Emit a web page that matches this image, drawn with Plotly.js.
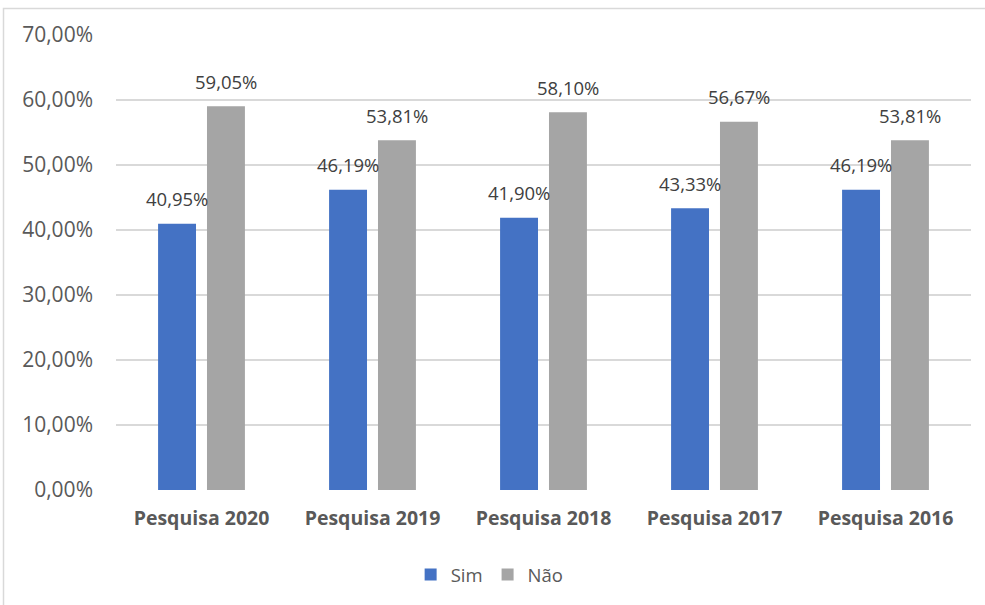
<!DOCTYPE html>
<html>
<head>
<meta charset="utf-8">
<script src="https://cdn.plot.ly/plotly-3.0.1.min.js"></script>
<style>
html,body{margin:0;padding:0;background:#fff;}
#chart{width:985px;height:605px;}
</style>
</head>
<body>
<div id="chart"></div>
<script>
const categories = ["Pesquisa 2020", "Pesquisa 2019", "Pesquisa 2018", "Pesquisa 2017", "Pesquisa 2016"];
const simValues = [40.95, 46.19, 41.90, 43.33, 46.19];
const naoValues = [59.05, 53.81, 58.10, 56.67, 53.81];
const seriesNames = ["Sim", "Não"];
const yTickVals = [0, 10, 20, 30, 40, 50, 60, 70];

const FONT = '"Open Sans", "Noto Sans", sans-serif';
const fmt = v => v.toFixed(2).replace('.', ',') + '%';

const traces = [
  {type: 'bar', name: seriesNames[0], x: categories, y: simValues,
   marker: {color: '#4472C4'}, hoverinfo: 'none'},
  {type: 'bar', name: seriesNames[1], x: categories, y: naoValues,
   marker: {color: '#A5A5A5'}, hoverinfo: 'none'}
];

const annotations = [];
[simValues, naoValues].forEach((vals, si) => {
  vals.forEach((v, i) => {
    annotations.push({
      x: categories[i], y: v, xref: 'x', yref: 'y',
      text: fmt(v), showarrow: false,
      xshift: si === 0 ? -24.5 : 24.5, yshift: 25,
      yanchor: 'middle', xanchor: 'center',
      font: {family: FONT, size: 18.5, color: '#404040'}
    });
  });
});

const layout = {
  width: 985, height: 605,
  margin: {l: 116, r: 14, t: 35, b: 114},
  paper_bgcolor: '#ffffff', plot_bgcolor: '#ffffff',
  barmode: 'group', bargap: 0.428, bargroupgap: 0.2245,
  showlegend: true,
  legend: {orientation: 'h', x: 0.437, xanchor: 'center', y: -0.184, yanchor: 'middle',
           font: {family: FONT, size: 18.5, color: '#595959'}, itemwidth: 30, traceorder: 'normal'},
  xaxis: {type: 'category', showgrid: false, zeroline: false, showline: false, ticks: '',
          tickfont: {family: FONT, size: 19.5, color: '#595959', weight: 'bold'},
          ticklabelstandoff: 14, fixedrange: true},
  yaxis: {range: [0, 70], tickvals: yTickVals, ticktext: yTickVals.map(fmt),
          showgrid: true, gridcolor: '#D9D9D9', gridwidth: 1.5, zeroline: false, showline: false,
          ticks: '', ticklabelstandoff: 22,
          tickfont: {family: FONT, size: 21, color: '#595959'}, fixedrange: true},
  annotations: annotations,
  shapes: [{type: 'rect', xref: 'paper', yref: 'paper',
            x0: (3.5 - 116) / 855, x1: 1.2, y0: -0.4, y1: (491 - 8.5) / 456,
            line: {color: '#D9D9D9', width: 1.5}, fillcolor: 'rgba(0,0,0,0)', layer: 'below'}]
};

Plotly.newPlot('chart', traces, layout, {displayModeBar: false, staticPlot: true});
</script>
</body>
</html>
